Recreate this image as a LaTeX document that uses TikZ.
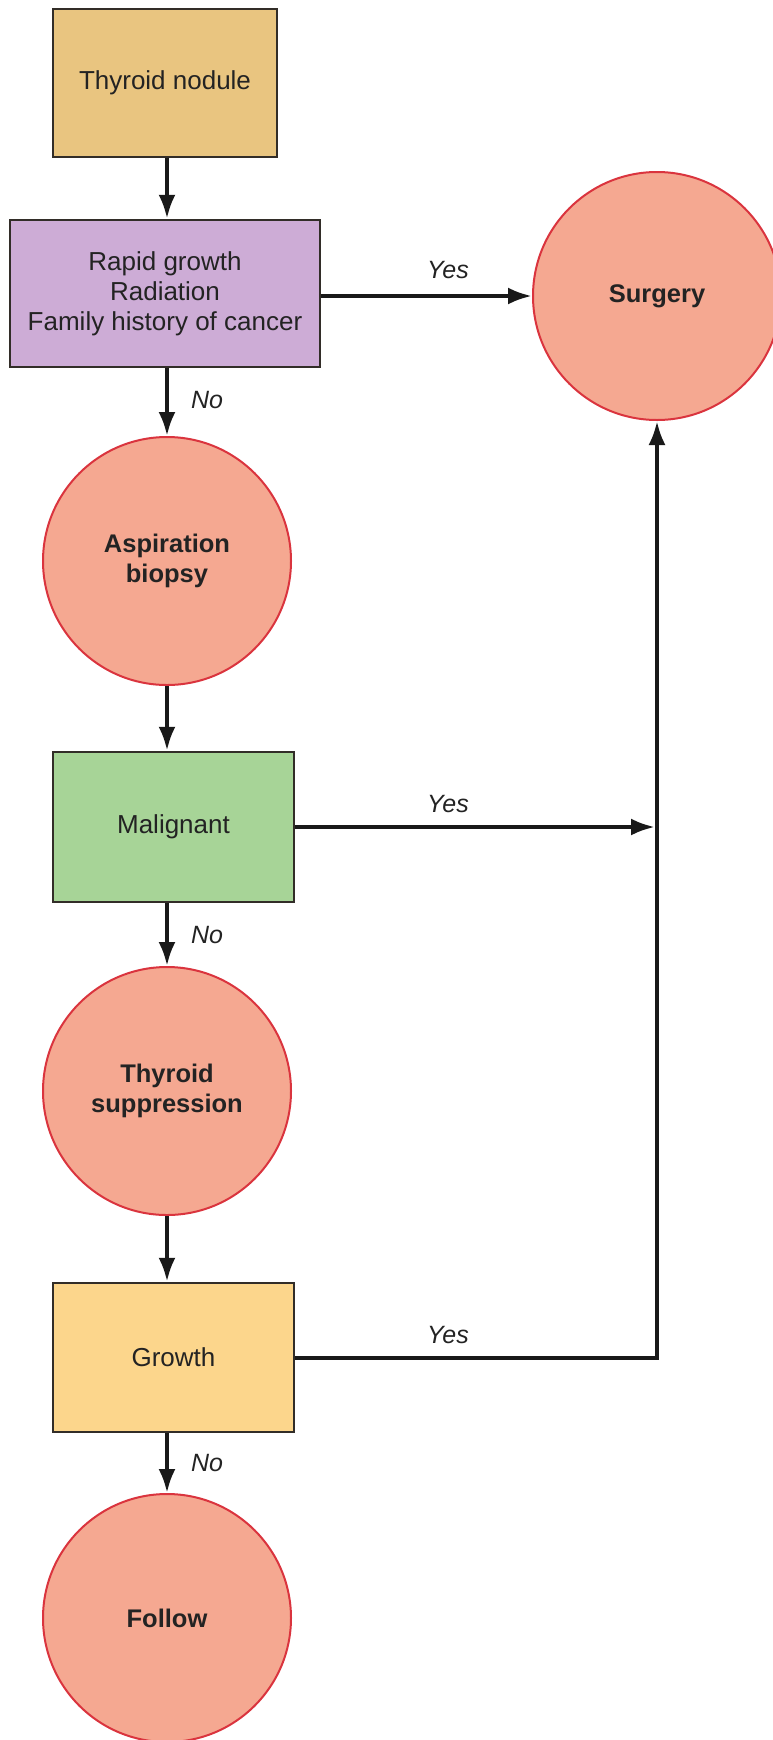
\documentclass[tikz,border=0pt]{standalone}
\usepackage{fontspec}
\setmainfont{Liberation Sans}
\usetikzlibrary{arrows.meta}
\definecolor{tanfill}{RGB}{233,197,128}
\definecolor{purfill}{RGB}{205,172,214}
\definecolor{salfill}{RGB}{245,168,145}
\definecolor{grnfill}{RGB}{167,212,151}
\definecolor{yelfill}{RGB}{252,214,140}
\definecolor{redline}{RGB}{218,52,62}
\definecolor{boxline}{RGB}{50,45,40}
\definecolor{txt}{RGB}{35,35,35}
\tikzset{
  box/.style={draw=boxline,line width=2.5pt,rectangle,inner sep=0pt,align=center,
    font=\fontsize{26}{30}\selectfont,text=txt},
  oval/.style={draw=redline,line width=2pt,circle,fill=salfill,minimum size=248pt,inner sep=0pt,
    align=center,font=\fontsize{25.5}{30}\selectfont\bfseries,text=txt},
  conn/.style={line width=4pt,draw=black!90,-{Latex[length=24pt,width=17pt]}},
  lab/.style={font=\fontsize{25}{30}\selectfont\itshape,text=txt,inner sep=0pt}
}
\begin{document}
\begin{tikzpicture}[x=1pt,y=-1pt]
\useasboundingbox (0,0) rectangle (772,1740);
\node[box,fill=tanfill,minimum width=224pt,minimum height=148pt] (tn) at (165,83) {Thyroid nodule};
\node[box,fill=purfill,minimum width=310pt,minimum height=147pt] (rg) at (165,293.5)
  {Rapid growth\\Radiation\\Family history of cancer};
\node[oval] (surg) at (657,296) {Surgery};
\node[oval] (asp) at (167,561) {Aspiration\\biopsy};
\node[box,fill=grnfill,minimum width=241pt,minimum height=150pt] (mal) at (173.5,827) {Malignant};
\node[oval] (ts) at (167,1091) {Thyroid\\suppression};
\node[box,fill=yelfill,minimum width=241pt,minimum height=149pt] (gr) at (173.5,1357.5) {Growth};
\node[oval] (fo) at (167,1618) {Follow};
\coordinate (corner) at (657,1358);
\node[lab] (y1) at (448,270) {Yes};
\node[lab] (y2) at (448,804) {Yes};
\node[lab] (y3) at (448,1335) {Yes};
\node[lab] (n1) at (207,400) {No};
\node[lab] (n2) at (207,935) {No};
\node[lab] (n3) at (207,1463) {No};
\draw[conn] (tn.south -| asp.north) -- (asp.north |- rg.north);
\draw[conn] (rg.east |- surg.west) -- (surg.west);
\draw[conn] (asp.north |- rg.south) -- (asp.north);
\draw[conn] (asp.south) -- (asp.south |- mal.north);
\draw[conn] (mal.south -| asp.south) -- (ts.north);
\draw[conn] (ts.south) -- (ts.south |- gr.north);
\draw[conn] (gr.south -| ts.south) -- (fo.north);
\draw[conn] (gr.east |- corner) -- (corner) -- (surg.south);
\draw[conn] (mal.east) -- ([xshift=-2pt]mal.east -| corner);
\end{tikzpicture}
\end{document}
